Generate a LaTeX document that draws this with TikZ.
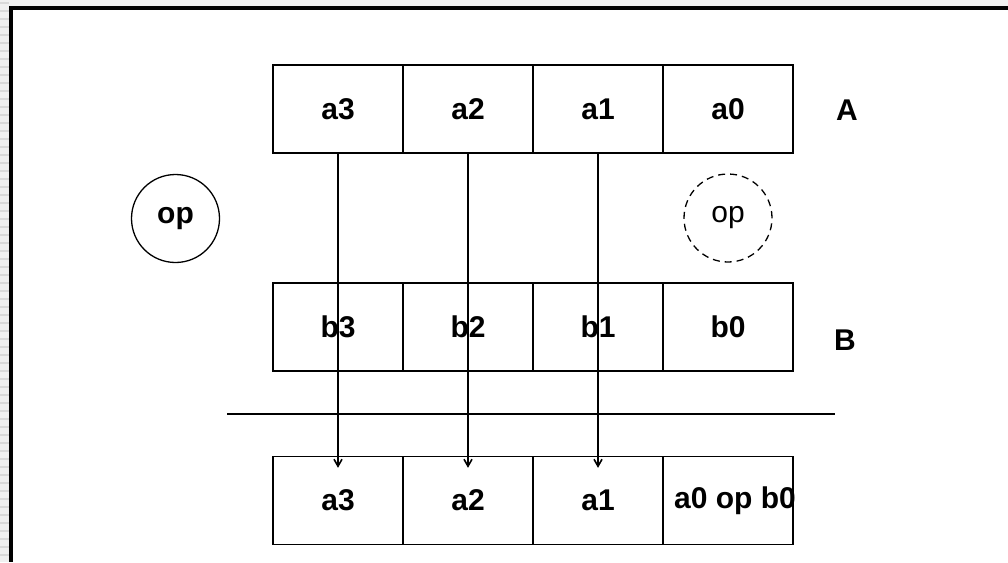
\documentclass[tikz,border=0pt]{standalone}
\usepackage{fontspec}
\setmainfont{Liberation Sans}
\usetikzlibrary{arrows.meta}
\begin{document}
\begin{tikzpicture}[x=1pt,y=-1pt,
  cell/.style={draw,line width=1.3pt,minimum width=130pt,minimum height=88pt,
    inner sep=0pt,font=\fontsize{30}{35}\selectfont\bfseries},
  tag/.style={font=\fontsize{30}{35}\selectfont\bfseries,inner sep=0pt},
  opcirc/.style={circle,draw,line width=1.3pt,minimum size=88pt,inner sep=0pt,
    font=\fontsize{30}{35}\selectfont},
  flow/.style={line width=1.3pt,-{Straight Barb[length=7pt,width=8pt,line width=1.6pt]}},
  rule/.style={line width=1.3pt}]
\useasboundingbox (0,0) rectangle (1008,562);
% page margin and frame
\fill[gray!12] (0,0) rectangle (9,562);
\fill[gray!12] (0,0) rectangle (1008,6);
\foreach \yy in {3,11,...,562} \draw[gray!30,line width=1.5pt] (0,\yy) -- (9,\yy);
\fill[black] (9,6) rectangle (13,562);
\fill[black] (9,6) rectangle (1008,10);
% register A
\node[cell] (a3) at (338,109) {a3};
\node[cell] (a2) at (468,109) {a2};
\node[cell] (a1) at (598,109) {a1};
\node[cell] (a0) at (728,109) {a0};
\node[tag] (labA) at (847,110) {A};
% operator circles
\node[opcirc,font=\fontsize{30}{35}\selectfont\bfseries] (opl) at (175.5,218.5) {op};
\node[opcirc,dashed,dash pattern=on 7pt off 5pt] (opr) at (728,218) {op};
% register B
\node[cell] (b3) at (338,327) {b3};
\node[cell] (b2) at (468,327) {b2};
\node[cell] (b1) at (598,327) {b1};
\node[cell] (b0) at (728,327) {b0};
\node[tag] (labB) at (845,340) {B};
% separator
\coordinate (sepl) at (227,414);
\coordinate (sepr) at (835,414);
\draw[rule] (sepl) -- (sepr);
% result register
\node[cell] (r3) at (338,500.5) {a3};
\node[cell] (r2) at (468,500.5) {a2};
\node[cell] (r1) at (598,500.5) {a1};
\node[cell] (r0) at (728,500.5) {};
\node[tag,anchor=west] (r0txt) at (674,500.5) {a0 op b0};
% pass-through of the upper digits
\draw[flow] (a3.south) -- ([yshift=-12pt]r3.north);
\draw[flow] (a2.south) -- ([yshift=-12pt]r2.north);
\draw[flow] (a1.south) -- ([yshift=-12pt]r1.north);
\end{tikzpicture}
\end{document}
